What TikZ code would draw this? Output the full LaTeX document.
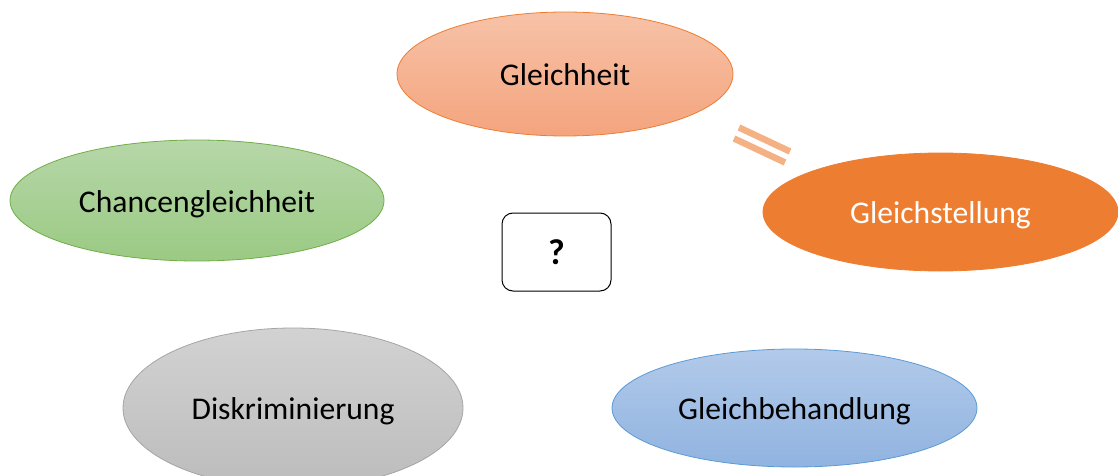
\documentclass[tikz,border=0pt]{standalone}
\usepackage{fontspec}
\setmainfont{Carlito}
\usetikzlibrary{shapes.geometric}
\definecolor{orOut}{HTML}{ED7D31}
\definecolor{orTop}{HTML}{F7C2A7}
\definecolor{orBot}{HTML}{F4A47E}
\definecolor{grOut}{HTML}{70AD47}
\definecolor{grTop}{HTML}{B6D7A8}
\definecolor{grBot}{HTML}{9BCA84}
\definecolor{gyOut}{HTML}{A5A5A5}
\definecolor{gyTop}{HTML}{D2D2D2}
\definecolor{gyBot}{HTML}{BCBCBC}
\definecolor{blOut}{HTML}{5B9BD5}
\definecolor{blTop}{HTML}{B2CAEA}
\definecolor{blBot}{HTML}{90B3E0}
\definecolor{eqCol}{HTML}{F4B183}
\tikzset{
  oval/.style={ellipse, inner sep=0pt, line width=0.8pt, text height=23pt, text depth=0pt, font=\fontsize{31.6}{36}\selectfont},
  qbox/.style={draw=black, line width=1pt, rounded corners=11pt, fill=white, inner sep=0pt, font=\bfseries\fontsize{36}{40}\selectfont},
  eqbar/.style={draw=eqCol, line width=6.5pt}
}
\begin{document}
\begin{tikzpicture}[x=1pt,y=-1pt]
\useasboundingbox (0,0) rectangle (1118,476);
\clip (0,0) rectangle (1118,476);
\node[oval, draw=orOut, top color=orTop, bottom color=orBot, minimum width=336pt, minimum height=124pt] (gleichheit) at (565,74) {Gleichheit};
\node[oval, draw=grOut, top color=grTop, bottom color=grBot, minimum width=374pt, minimum height=121pt] (chancen) at (197,200.5) {Chancengleichheit};
\node[oval, draw=orOut, fill=orOut, text=white, minimum width=355pt, minimum height=118pt] (gleichstellung) at (940.5,212) {Gleichstellung};
\node[oval, draw=gyOut, top color=gyTop, bottom color=gyBot, minimum width=340pt, minimum height=160pt] (diskr) at (293,408) {Diskriminierung};
\node[oval, draw=blOut, top color=blTop, bottom color=blBot, minimum width=365pt, minimum height=118pt] (behandlung) at (794.5,408) {Gleichbehandlung};
\node[qbox, minimum width=109pt, minimum height=78pt] (frage) at (556.5,252) {?};
\coordinate (e1a) at (739,127.5);
\coordinate (e1b) at (790,151.5);
\coordinate (e2a) at (734,138.5);
\coordinate (e2b) at (785,162.5);
\draw[eqbar] (e1a) -- (e1b);
\draw[eqbar] (e2a) -- (e2b);
\end{tikzpicture}
\end{document}
